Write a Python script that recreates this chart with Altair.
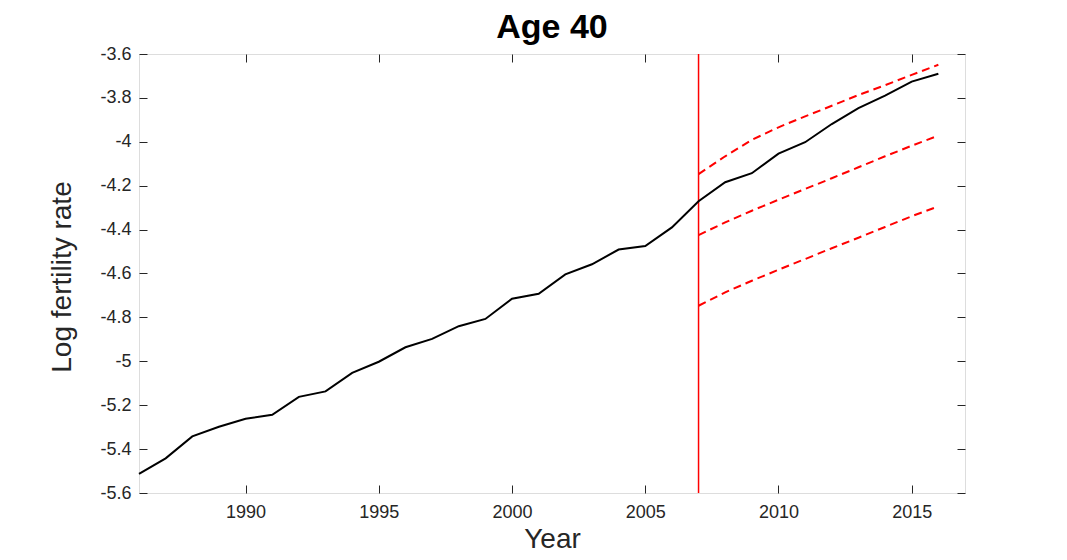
import altair as alt
import pandas as pd

# ---- data ----
years = list(range(1986, 2017))
observed = [-5.513, -5.442, -5.342, -5.298, -5.262, -5.244, -5.162, -5.137,
            -5.053, -5.002, -4.936, -4.898, -4.840, -4.807, -4.715, -4.692,
            -4.604, -4.558, -4.491, -4.475, -4.390, -4.271, -4.184, -4.143,
            -4.054, -4.002, -3.919, -3.847, -3.790, -3.726, -3.690]

forecast_years = list(range(2007, 2017))
upper = [-4.147, -4.066, -3.991, -3.934, -3.884, -3.836, -3.787, -3.742, -3.695, -3.649]
middle = [-4.425, -4.367, -4.314, -4.264, -4.215, -4.166, -4.116, -4.066, -4.018, -3.972]
lower = [-4.747, -4.686, -4.633, -4.583, -4.534, -4.485, -4.437, -4.388, -4.339, -4.294]

forecast_origin = 2007

x_ticks = [1990, 1995, 2000, 2005, 2010, 2015]
y_ticks = [-5.6, -5.4, -5.2, -5.0, -4.8, -4.6, -4.4, -4.2, -4.0, -3.8, -3.6]

x_domain = [1986, 2017]
y_domain = [-5.6, -3.6]

FONT = "Liberation Sans"
AXIS_COLOR = "#262626"
W, H = 826, 439

df_obs = pd.DataFrame({"year": years, "value": observed})
df_up = pd.DataFrame({"year": forecast_years, "value": upper})
df_mid = pd.DataFrame({"year": forecast_years, "value": middle})
df_low = pd.DataFrame({"year": forecast_years, "value": lower})

xs = alt.Scale(domain=x_domain, nice=False, zero=False)
ys = alt.Scale(domain=y_domain, nice=False, zero=False)

# main axes: labels and titles
x_main = alt.Axis(orient="bottom", values=x_ticks, labelExpr="'' + datum.value",
                  tickSize=0, domain=False, grid=False, labelPadding=10,
                  labelFont=FONT, labelFontSize=18, labelColor=AXIS_COLOR,
                  title="Year", titleFont=FONT, titleFontSize=28,
                  titleFontWeight="normal", titleColor=AXIS_COLOR,
                  titleX=W / 2, titleY=54, titleBaseline="alphabetic",
                  titleAlign="center")
y_main = alt.Axis(orient="left", values=y_ticks, labelExpr="'' + datum.value",
                  tickSize=0, domain=False, grid=False, labelPadding=8,
                  labelFont=FONT, labelFontSize=18, labelColor=AXIS_COLOR,
                  title="Log fertility rate", titleFont=FONT, titleFontSize=28,
                  titleFontWeight="normal", titleColor=AXIS_COLOR,
                  titleX=-69, titleY=H / 2 + 3, titleBaseline="alphabetic",
                  titleAlign="center", titleAngle=270)


def tick_axis(orient, values):
    return alt.Axis(orient=orient, values=values, offset=-8, tickSize=8,
                    tickColor=AXIS_COLOR, tickWidth=1, labels=False,
                    domain=False, grid=False, title="")


line_obs = alt.Chart(df_obs).mark_line(color="black", strokeWidth=2).encode(
    x=alt.X("year:Q", scale=xs, axis=x_main),
    y=alt.Y("value:Q", scale=ys, axis=y_main),
)

dash = [8, 5]
line_up = alt.Chart(df_up).mark_line(color="#ff0000", strokeWidth=2, strokeDash=dash).encode(
    x=alt.X("year:Q", scale=xs, axis=tick_axis("bottom", x_ticks)),
    y=alt.Y("value:Q", scale=ys, axis=tick_axis("left", y_ticks)),
)
line_mid = alt.Chart(df_mid).mark_line(color="#ff0000", strokeWidth=2, strokeDash=dash).encode(
    x=alt.X("year:Q", scale=xs, axis=tick_axis("top", x_ticks)),
    y=alt.Y("value:Q", scale=ys, axis=tick_axis("right", y_ticks)),
)
line_low = alt.Chart(df_low).mark_line(color="#ff0000", strokeWidth=2, strokeDash=dash).encode(
    x=alt.X("year:Q", scale=xs, axis=None),
    y=alt.Y("value:Q", scale=ys, axis=None),
)

vline = alt.Chart(pd.DataFrame({"year": [forecast_origin]})).mark_rule(
    color="#ff0000", strokeWidth=1.5).encode(
    x=alt.X("year:Q", scale=xs, axis=None),
)

chart = (
    alt.layer(vline, line_obs, line_up, line_mid, line_low)
    .resolve_axis(x="independent", y="independent")
    .properties(
        width=W, height=H,
        autosize="none",
        padding={"left": 131, "top": 46, "right": 94, "bottom": 59},
        title=alt.TitleParams("Age 40", font=FONT, fontSize=34, fontWeight="bold",
                              color="black", anchor="middle", frame="group",
                              offset=10, dy=10),
    )
    .configure_view(stroke=AXIS_COLOR, strokeWidth=1)
    .configure(background="white")
)

chart.save("out.html", embed_options={"renderer": "svg", "actions": False})
